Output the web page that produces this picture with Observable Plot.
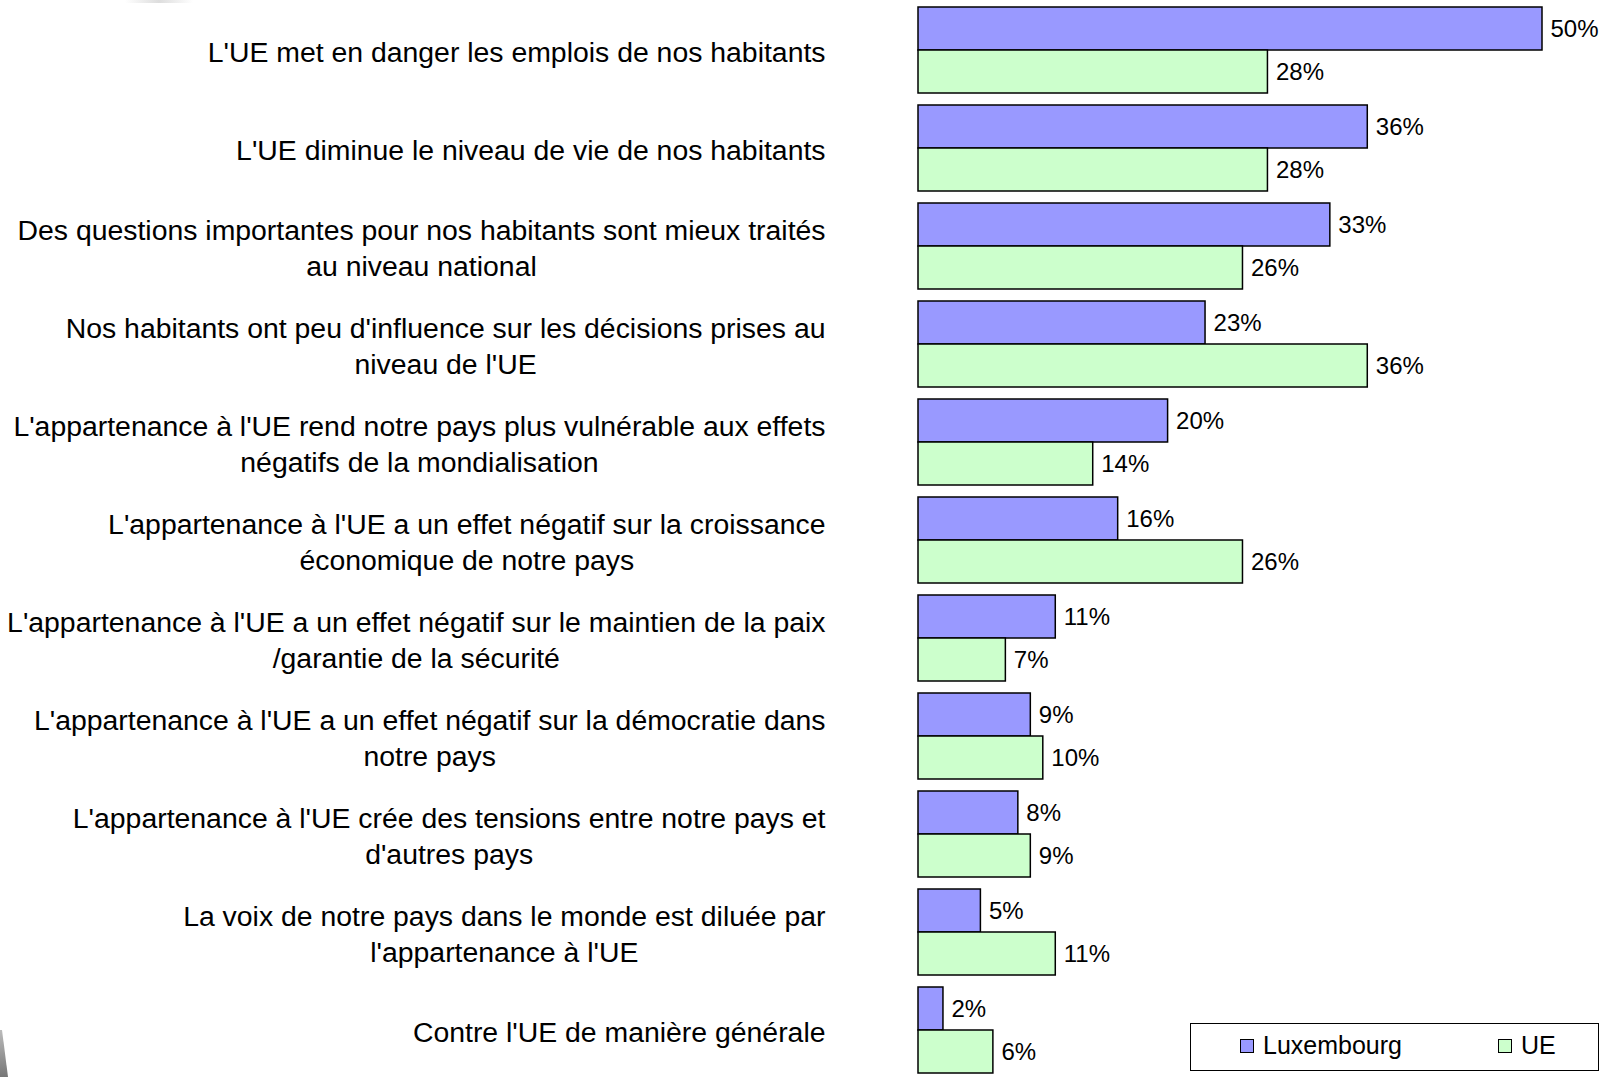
<!DOCTYPE html>
<html>
<head>
<meta charset="utf-8">
<script src="https://cdn.jsdelivr.net/npm/d3@7"></script>
<script src="https://cdn.jsdelivr.net/npm/@observablehq/plot@0.6"></script>
<style>
  html, body { margin: 0; padding: 0; background: #fff; overflow: hidden; }
  #wrap { position: relative; width: 1609px; height: 1077px; font-family: 'Liberation Sans', Arial, sans-serif; }
  #legend { position: absolute; left: 1190px; top: 1023px; width: 407px; height: 46px; border: 1.5px solid #000; background: #fff; box-sizing: content-box; }
  .sw { position: absolute; top: 15px; width: 12px; height: 12px; border: 1.5px solid #000; }
  .lt { position: absolute; top: 7px; font-size: 25px; line-height: 28px; color: #000; }
  #deco1 { position: absolute; left: 0; top: 1030px; width: 8px; height: 47px; background: linear-gradient(#bbb, #777); clip-path: polygon(0 0, 25% 0, 100% 100%, 0 100%); }
  #deco2 { position: absolute; left: 125px; top: 0; width: 68px; height: 3px; background: linear-gradient(90deg, rgba(200,200,200,0), #ddd, rgba(200,200,200,0)); }
</style>
</head>
<body>
<div id="wrap"></div>
<script>
const categories = [
  "L'UE met en danger les emplois de nos habitants",
  "L'UE diminue le niveau de vie de nos habitants",
  "Des questions importantes pour nos habitants sont mieux traités\nau niveau national",
  "Nos habitants ont peu d'influence sur les décisions prises au\nniveau de l'UE",
  "L'appartenance à l'UE rend notre pays plus vulnérable aux effets\nnégatifs de la mondialisation",
  "L'appartenance à l'UE a un effet négatif sur la croissance\néconomique de notre pays",
  "L'appartenance à l'UE a un effet négatif sur le maintien de la paix\n/garantie de la sécurité",
  "L'appartenance à l'UE a un effet négatif sur la démocratie dans\nnotre pays",
  "L'appartenance à l'UE crée des tensions entre notre pays et\nd'autres pays",
  "La voix de notre pays dans le monde est diluée par\nl'appartenance à l'UE",
  "Contre l'UE de manière générale"
];
const series = ["Luxembourg", "UE"];
const luxembourg = [50, 36, 33, 23, 20, 16, 11, 9, 8, 5, 2];
const ue = [28, 28, 26, 36, 14, 26, 7, 10, 9, 11, 6];
const colors = ["#9999FF", "#CCFFCC"];

const data = categories.flatMap((c, i) => [
  {category: c, series: series[0], value: luxembourg[i]},
  {category: c, series: series[1], value: ue[i]}
]);

const plot = Plot.plot({
  width: 1609,
  height: 1077,
  marginTop: 4,
  marginBottom: 1,
  marginLeft: 918,
  marginRight: 67,
  style: {fontFamily: "'Liberation Sans', Arial, sans-serif", background: "transparent", color: "#000"},
  x: {domain: [0, 50], axis: null},
  y: {domain: series, axis: null, padding: 0},
  fy: {domain: categories, paddingInner: 0.1224, paddingOuter: 0.03, label: null},
  color: {domain: series, range: colors},
  marks: [
    Plot.barX(data, {x: "value", y: "series", fy: "category", fill: "series", stroke: "#000", strokeWidth: 1.5}),
    Plot.text(data, {x: "value", y: "series", fy: "category", text: d => `${d.value}%`, textAnchor: "start", dx: 8, fontSize: 24, fill: "#000"}),
    Plot.axisFy({anchor: "left", tickSize: 0, tickPadding: 93, fontSize: 28.4, lineHeight: 1.25, textAnchor: "end", label: null, fill: "#000"})
  ]
});

const wrap = document.getElementById("wrap");
wrap.appendChild(plot);

// center multi-line labels within their right-aligned block
plot.querySelectorAll('g[aria-label="fy-axis tick label"] text').forEach(t => {
  const W = t.getBBox().width;
  t.setAttribute("text-anchor", "middle");
  const tr = t.getAttribute("transform") || "";
  t.setAttribute("transform", tr + ` translate(${-W / 2},0)`);
});

const legend = document.createElement("div");
legend.id = "legend";
legend.innerHTML = `
  <div class="sw" style="left:49px;background:${colors[0]}"></div>
  <div class="lt" style="left:72px">${series[0]}</div>
  <div class="sw" style="left:307px;background:${colors[1]}"></div>
  <div class="lt" style="left:330px">${series[1]}</div>`;
wrap.appendChild(legend);

const d1 = document.createElement("div"); d1.id = "deco1"; wrap.appendChild(d1);
const d2 = document.createElement("div"); d2.id = "deco2"; wrap.appendChild(d2);
plot.style.position = "absolute";
plot.style.left = "0";
plot.style.top = "0";
</script>
</body>
</html>
